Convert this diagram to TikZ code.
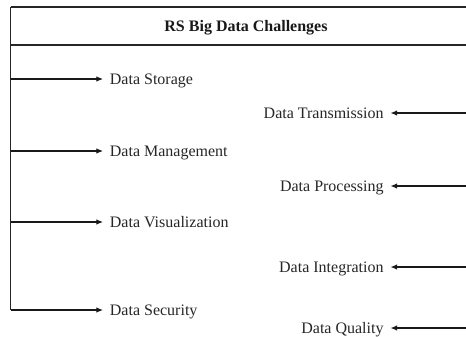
\documentclass[tikz,border=0pt]{standalone}
\usepackage{fontspec}
\setmainfont{Liberation Serif}
\usetikzlibrary{arrows.meta}
\begin{document}
\begin{tikzpicture}[x=0.75pt,y=-0.75pt,
  boxline/.style={draw=black!85, line width=0.8pt},
  conn/.style={draw=black!90, line width=0.8pt, -{Latex[length=5pt,width=4.2pt]}},
  itemtext/.style={font=\fontsize{12}{14}\selectfont, text=black!85, inner xsep=5pt, inner ysep=0pt, text height=8.5pt, text depth=0pt},
  titletext/.style={font=\fontsize{12}{14}\selectfont\bfseries, text=black!90, inner sep=0pt, text height=8pt, text depth=0pt}]
\useasboundingbox (0,0) rectangle (466,336);
\clip (0,0) rectangle (466,336);
% frame coordinates
\coordinate (tl) at (10.5,7);
\coordinate (tr) at (482,7);
\coordinate (hl) at (10.5,45);
\coordinate (hr) at (482,45);
% left branch points
\coordinate (l1) at (10.5,79);
\coordinate (l2) at (10.5,151);
\coordinate (l3) at (10.5,222);
\coordinate (l4) at (10.5,310);
% right branch points
\coordinate (r1) at (482,113);
\coordinate (r2) at (482,186);
\coordinate (r3) at (482,267);
\coordinate (r4) at (482,328);
% title
\node[titletext] (title) at (246,26.5) {RS Big Data Challenges};
% frame
\draw[boxline] (tl) -- (tr);
\draw[boxline] (hl) -- (hr);
\draw[boxline] (tl) -- (l4);
\draw[boxline] (tr) -- (r4);
% left items
\node[itemtext, anchor=west] (storage) at (103,79) {Data Storage};
\node[itemtext, anchor=west] (management) at (103,151) {Data Management};
\node[itemtext, anchor=west] (visual) at (103,222) {Data Visualization};
\node[itemtext, anchor=west] (security) at (103,310) {Data Security};
% right items
\node[itemtext, anchor=east] (transmission) at (390.5,113) {Data Transmission};
\node[itemtext, anchor=east] (processing) at (390.5,186) {Data Processing};
\node[itemtext, anchor=east] (integration) at (390.5,267) {Data Integration};
\node[itemtext, anchor=east] (quality) at (390.5,328) {Data Quality};
% connectors
\draw[conn] (l1) -- (storage.west);
\draw[conn] (l2) -- (management.west);
\draw[conn] (l3) -- (visual.west);
\draw[conn] (l4) -- (security.west);
\draw[conn] (r1) -- (transmission.east);
\draw[conn] (r2) -- (processing.east);
\draw[conn] (r3) -- (integration.east);
\draw[conn] (r4) -- (quality.east);
\end{tikzpicture}
\end{document}
